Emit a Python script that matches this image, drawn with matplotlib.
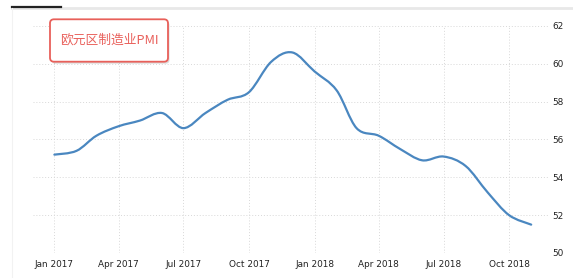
import numpy as np
import matplotlib
matplotlib.use('Agg')
import matplotlib.pyplot as plt
import matplotlib.dates as mdates
from matplotlib.path import Path
from matplotlib.patches import PathPatch, FancyBboxPatch
from matplotlib.transforms import IdentityTransform
import datetime as dt

# Eurozone manufacturing PMI, monthly values
months = ['2017-01', '2017-02', '2017-03', '2017-04', '2017-05', '2017-06',
          '2017-07', '2017-08', '2017-09', '2017-10', '2017-11', '2017-12',
          '2018-01', '2018-02', '2018-03', '2018-04', '2018-05', '2018-06',
          '2018-07', '2018-08', '2018-09', '2018-10', '2018-11']
pmi = [55.2, 55.4, 56.2, 56.7, 57.0, 57.4, 56.6, 57.4, 58.1, 58.5, 60.1, 60.6,
       59.6, 58.6, 56.6, 56.2, 55.5, 54.9, 55.1, 54.6, 53.2, 52.0, 51.5]
y_ticks = [50, 52, 54, 56, 58, 60, 62]
title = '欧元区制造业PMI'

W, H, DPI = 573, 278, 100
fig = plt.figure(figsize=(W / DPI, H / DPI), dpi=DPI)
fig.patch.set_facecolor('white')

# axes placed by pixel edges
left, right, bottom, top = 33, 549, 253, 26
ax = fig.add_axes([left / W, 1 - bottom / H, (right - left) / W, (bottom - top) / H])

dates = [dt.datetime.strptime(m, '%Y-%m') for m in months]
xs = mdates.date2num(dates)
ys = np.array(pmi)

# smooth line through the points (Catmull-Rom as cubic Bezier segments)
verts = [(xs[0], ys[0])]
codes = [Path.MOVETO]
n = len(xs)
for i in range(n - 1):
    p0 = (xs[max(i - 1, 0)], ys[max(i - 1, 0)])
    p1 = (xs[i], ys[i])
    p2 = (xs[i + 1], ys[i + 1])
    p3 = (xs[min(i + 2, n - 1)], ys[min(i + 2, n - 1)])
    c1 = (p1[0] + (p2[0] - p0[0]) / 6, p1[1] + (p2[1] - p0[1]) / 6)
    c2 = (p2[0] - (p3[0] - p1[0]) / 6, p2[1] - (p3[1] - p1[1]) / 6)
    verts += [c1, c2, p2]
    codes += [Path.CURVE4] * 3
ax.add_patch(PathPatch(Path(verts, codes), fill=False, edgecolor='#4a87c0',
                       lw=1.6, capstyle='round', joinstyle='round', zorder=3))

ax.set_xlim(dt.datetime(2016, 12, 2), dt.datetime(2018, 11, 26))
ax.set_ylim(50, 62)

ax.xaxis.set_major_locator(mdates.MonthLocator(bymonth=[1, 4, 7, 10]))
ax.xaxis.set_major_formatter(mdates.DateFormatter('%b %Y'))
ax.yaxis.tick_right()
ax.set_yticks(y_ticks)
ax.tick_params(axis='both', length=0, labelsize=6.4, colors='#222222')
ax.tick_params(axis='x', pad=5)
ax.tick_params(axis='y', pad=2.5)
ax.grid(True, linestyle=(0, (1, 2)), color='#d8d8d8', lw=0.7)
for s in ax.spines.values():
    s.set_visible(False)

# frame decoration at the top and left
fig.add_artist(plt.Line2D([12 / W, 1], [1 - 8 / H, 1 - 8 / H], transform=fig.transFigure,
                          color='#e8e8e8', lw=2))
fig.add_artist(plt.Line2D([12 / W, 61 / W], [1 - 7 / H, 1 - 7 / H], transform=fig.transFigure,
                          color='#222222', lw=1.6))
fig.add_artist(plt.Line2D([12 / W, 12 / W], [0, 1 - 8 / H], transform=fig.transFigure,
                          color='#f2f2f2', lw=0.8))

# label box with shadow
bx, by, bw, bh = 50, H - 61.7, 118, 42.4
shadow = FancyBboxPatch((bx + 1.5, by - 2), bw, bh, boxstyle='round,pad=0,rounding_size=4',
                        transform=IdentityTransform(), facecolor='#999999', edgecolor='none',
                        alpha=0.35, zorder=5)
box = FancyBboxPatch((bx, by), bw, bh, boxstyle='round,pad=0,rounding_size=4',
                     transform=IdentityTransform(), facecolor='white', edgecolor='#e8605a',
                     lw=1.3, zorder=6)
fig.add_artist(shadow)
fig.add_artist(box)
fig.text((bx + bw / 2) / W, (by + bh / 2) / H, title, ha='center', va='center',
         fontsize=9.2, color='#e9605b', family=['Noto Sans CJK SC', 'DejaVu Sans'], zorder=7)

fig.savefig('out.png', dpi=DPI)
